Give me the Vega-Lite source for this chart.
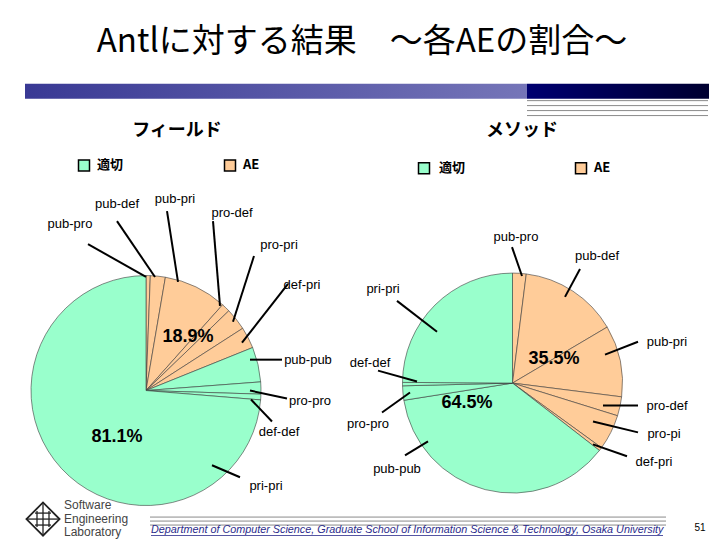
{
  "$schema": "https://vega.github.io/schema/vega-lite/v6.json",
  "width": 720,
  "height": 540,
  "autosize": {"type": "fit", "contains": "padding"},
  "padding": 0,
  "background": "white",
  "config": {"view": {"stroke": null}},
  "datasets": {
    "one": [{}],
    "slices": [
      {"pie": "F", "ord": 1, "name": "pub-pro", "group": "AE", "pct": 0.6},
      {"pie": "F", "ord": 2, "name": "pub-def", "group": "AE", "pct": 2.1},
      {"pie": "F", "ord": 3, "name": "pub-pri", "group": "AE", "pct": 8.9},
      {"pie": "F", "ord": 4, "name": "pro-def", "group": "AE", "pct": 1.2},
      {"pie": "F", "ord": 5, "name": "pro-pri", "group": "AE", "pct": 3.1},
      {"pie": "F", "ord": 6, "name": "def-pri", "group": "AE", "pct": 3.0},
      {"pie": "F", "ord": 7, "name": "pub-pub", "group": "適切", "pct": 4.9},
      {"pie": "F", "ord": 8, "name": "pro-pro", "group": "適切", "pct": 1.7},
      {"pie": "F", "ord": 9, "name": "def-def", "group": "適切", "pct": 0.8},
      {"pie": "F", "ord": 10, "name": "pri-pri", "group": "適切", "pct": 73.7},
      {"pie": "M", "ord": 1, "name": "pub-pro", "group": "AE", "pct": 2.0},
      {"pie": "M", "ord": 2, "name": "pub-def", "group": "AE", "pct": 14.5},
      {"pie": "M", "ord": 3, "name": "pub-pri", "group": "AE", "pct": 10.5},
      {"pie": "M", "ord": 4, "name": "pro-def", "group": "AE", "pct": 2.8},
      {"pie": "M", "ord": 5, "name": "pro-pi", "group": "AE", "pct": 5.2},
      {"pie": "M", "ord": 6, "name": "def-pri", "group": "AE", "pct": 0.5},
      {"pie": "M", "ord": 7, "name": "pub-pub", "group": "適切", "pct": 37.0},
      {"pie": "M", "ord": 8, "name": "pro-pro", "group": "適切", "pct": 2.1},
      {"pie": "M", "ord": 9, "name": "def-def", "group": "適切", "pct": 0.5},
      {"pie": "M", "ord": 10, "name": "pri-pri", "group": "適切", "pct": 24.9}
    ],
    "labels": [
      {"name": "pub-pro", "lx": 70, "ly": 225, "ax": 88, "ay": 245, "bx": 146, "by": 278},
      {"name": "pub-def", "lx": 117, "ly": 205, "ax": 117, "ay": 222, "bx": 155, "by": 278},
      {"name": "pub-pri", "lx": 175, "ly": 200, "ax": 167, "ay": 212, "bx": 178, "by": 283},
      {"name": "pro-def", "lx": 232, "ly": 214, "ax": 213, "ay": 222, "bx": 220, "by": 307},
      {"name": "pro-pri", "lx": 279, "ly": 246, "ax": 254, "ay": 257, "bx": 233, "by": 323},
      {"name": "def-pri", "lx": 302, "ly": 286, "ax": 288, "ay": 285, "bx": 242, "by": 344},
      {"name": "pub-pub", "lx": 308, "ly": 361, "ax": 282, "ay": 361, "bx": 250, "by": 361},
      {"name": "pro-pro", "lx": 310, "ly": 402, "ax": 287, "ay": 400, "bx": 250, "by": 392},
      {"name": "def-def", "lx": 279, "ly": 434, "ax": 272, "ay": 423, "bx": 251, "by": 401},
      {"name": "pri-pri", "lx": 266, "ly": 488, "ax": 240, "ay": 479, "bx": 212, "by": 467},
      {"name": "pub-pro", "lx": 516, "ly": 238, "ax": 512, "ay": 248, "bx": 522, "by": 277},
      {"name": "pub-def", "lx": 597, "ly": 257, "ax": 580, "ay": 270, "bx": 565, "by": 298},
      {"name": "pri-pri", "lx": 383, "ly": 290, "ax": 397, "ay": 302, "bx": 437, "by": 333},
      {"name": "def-def", "lx": 370, "ly": 364, "ax": 378, "ay": 372, "bx": 417, "by": 383},
      {"name": "pro-pro", "lx": 368, "ly": 426, "ax": 382, "ay": 414, "bx": 410, "by": 394},
      {"name": "pub-pub", "lx": 397, "ly": 471, "ax": 405, "ay": 457, "bx": 428, "by": 443},
      {"name": "pub-pri", "lx": 667, "ly": 343, "ax": 638, "ay": 343, "bx": 605, "by": 356},
      {"name": "pro-def", "lx": 667, "ly": 408, "ax": 638, "ay": 407, "bx": 603, "by": 407},
      {"name": "pro-pi", "lx": 664, "ly": 436, "ax": 638, "ay": 434, "bx": 593, "by": 423},
      {"name": "def-pri", "lx": 654, "ly": 464, "ax": 627, "ay": 458, "bx": 593, "by": 446}
    ],
    "pcts": [
      {"t": "18.9%", "x": 188, "y": 338},
      {"t": "81.1%", "x": 117, "y": 439},
      {"t": "35.5%", "x": 554, "y": 360},
      {"t": "64.5%", "x": 467, "y": 404}
    ],
    "heads": [
      {"t": "フィールド", "x": 177, "y": 131},
      {"t": "メソッド", "x": 522, "y": 131}
    ],
    "legsq": [
      {"group": "適切", "x": 84, "y": 166},
      {"group": "AE", "x": 230, "y": 166},
      {"group": "適切", "x": 424, "y": 169},
      {"group": "AE", "x": 581, "y": 169}
    ],
    "legtx": [
      {"t": "適切", "x": 97, "y": 166},
      {"t": "AE", "x": 243, "y": 166},
      {"t": "適切", "x": 439, "y": 169},
      {"t": "AE", "x": 594, "y": 169}
    ],
    "hlines": [
      {"x": 527, "x2": 708, "y": 101},
      {"x": 527, "x2": 708, "y": 106},
      {"x": 527, "x2": 708, "y": 111},
      {"x": 527, "x2": 708, "y": 116},
      {"x": 150, "x2": 666, "y": 519},
      {"x": 150, "x2": 666, "y": 523},
      {"x": 150, "x2": 666, "y": 527}
    ],
    "logo": [
      {"t": "Software", "x": 64, "y": 507},
      {"t": "Engineering", "x": 64, "y": 520.5},
      {"t": "Laboratory", "x": 64, "y": 534}
    ],
    "logolines": [
      {"x": 27, "x2": 59, "y": 521, "y2": 521},
      {"x": 43, "x2": 43, "y": 505, "y2": 537},
      {"x": 35, "x2": 51, "y": 515, "y2": 515},
      {"x": 35, "x2": 51, "y": 527, "y2": 527},
      {"x": 37, "x2": 37, "y": 513, "y2": 529},
      {"x": 49, "x2": 49, "y": 513, "y2": 529}
    ]
  },
  "layer": [
    {
      "data": {"name": "one"},
      "mark": {"type": "text", "text": "Antlに対する結果　～各AEの割合～", "font": "Noto Sans CJK JP", "fontSize": 33, "align": "center", "baseline": "middle", "color": "#000000"},
      "encoding": {
        "x": {"datum": 362, "type": "quantitative", "scale": {"domain": [0, 720], "nice": false, "zero": false}, "axis": null},
        "y": {"datum": 42, "type": "quantitative", "scale": {"domain": [0, 540], "nice": false, "zero": false, "reverse": true}, "axis": null}
      }
    },
    {
      "data": {"name": "one"},
      "mark": {"type": "rect", "color": {"gradient": "linear", "x1": 0, "y1": 0, "x2": 1, "y2": 0, "stops": [{"offset": 0, "color": "#393994"}, {"offset": 1, "color": "#7575B8"}]}},
      "encoding": {
        "x": {"datum": 25, "type": "quantitative", "axis": null},
        "x2": {"datum": 527},
        "y": {"datum": 84, "type": "quantitative", "axis": null},
        "y2": {"datum": 99}
      }
    },
    {
      "data": {"name": "one"},
      "mark": {"type": "rect", "color": {"gradient": "linear", "x1": 0, "y1": 0, "x2": 1, "y2": 0, "stops": [{"offset": 0, "color": "#000070"}, {"offset": 1, "color": "#000030"}]}},
      "encoding": {
        "x": {"datum": 527, "type": "quantitative", "axis": null},
        "x2": {"datum": 709},
        "y": {"datum": 84, "type": "quantitative", "axis": null},
        "y2": {"datum": 99}
      }
    },
    {
      "data": {"name": "hlines"},
      "mark": {"type": "rule", "color": "#8a8a8a", "strokeWidth": 1},
      "encoding": {
        "x": {"field": "x", "type": "quantitative", "axis": null},
        "x2": {"field": "x2"},
        "y": {"field": "y", "type": "quantitative", "axis": null}
      }
    },
    {
      "data": {"name": "heads"},
      "mark": {"type": "text", "font": "Noto Sans CJK JP", "fontSize": 18, "fontWeight": "bold", "align": "center", "baseline": "middle", "color": "#000000"},
      "encoding": {
        "x": {"field": "x", "type": "quantitative", "axis": null},
        "y": {"field": "y", "type": "quantitative", "axis": null},
        "text": {"field": "t"}
      }
    },
    {
      "data": {"name": "legsq"},
      "mark": {"type": "point", "shape": "square", "filled": true, "size": 121, "stroke": "#000000", "strokeWidth": 1.5, "opacity": 1},
      "encoding": {
        "x": {"field": "x", "type": "quantitative", "axis": null},
        "y": {"field": "y", "type": "quantitative", "axis": null},
        "color": {"field": "group", "type": "nominal", "scale": {"domain": ["適切", "AE"], "range": ["#99FFCC", "#FFCC99"]}, "legend": null}
      }
    },
    {
      "data": {"name": "legtx"},
      "mark": {"type": "text", "font": "Noto Sans CJK JP", "fontSize": 13, "fontWeight": "bold", "align": "left", "baseline": "middle", "color": "#000000"},
      "encoding": {
        "x": {"field": "x", "type": "quantitative", "axis": null},
        "y": {"field": "y", "type": "quantitative", "axis": null},
        "text": {"field": "t"}
      }
    },
    {
      "data": {"name": "slices"},
      "transform": [
        {"filter": "datum.pie === 'F'"},
        {"stack": "pct", "groupby": ["pie"], "sort": [{"field": "ord", "order": "ascending"}], "as": ["t0", "t1"]}
      ],
      "mark": {"type": "arc", "radius": 115, "stroke": "#3a3a3a", "strokeWidth": 0.6},
      "encoding": {
        "x": {"datum": 146, "type": "quantitative", "axis": null},
        "y": {"datum": 392, "type": "quantitative", "axis": null},
        "theta": {"field": "t0", "type": "quantitative", "scale": {"domain": [0, 100]}},
        "theta2": {"field": "t1"},
        "color": {"field": "group", "type": "nominal", "legend": null}
      }
    },
    {
      "data": {"name": "slices"},
      "transform": [
        {"filter": "datum.pie === 'M'"},
        {"stack": "pct", "groupby": ["pie"], "sort": [{"field": "ord", "order": "ascending"}], "as": ["t0", "t1"]}
      ],
      "mark": {"type": "arc", "radius": 110, "stroke": "#3a3a3a", "strokeWidth": 0.6},
      "encoding": {
        "x": {"datum": 512.5, "type": "quantitative", "axis": null},
        "y": {"datum": 384.5, "type": "quantitative", "axis": null},
        "theta": {"field": "t0", "type": "quantitative", "scale": {"domain": [0, 100]}},
        "theta2": {"field": "t1"},
        "color": {"field": "group", "type": "nominal", "legend": null}
      }
    },
    {
      "data": {"name": "labels"},
      "mark": {"type": "rule", "color": "#000000", "strokeWidth": 2},
      "encoding": {
        "x": {"field": "ax", "type": "quantitative", "axis": null},
        "y": {"field": "ay", "type": "quantitative", "axis": null},
        "x2": {"field": "bx"},
        "y2": {"field": "by"}
      }
    },
    {
      "data": {"name": "labels"},
      "mark": {"type": "text", "font": "Liberation Sans", "fontSize": 13, "align": "center", "baseline": "middle", "color": "#000000"},
      "encoding": {
        "x": {"field": "lx", "type": "quantitative", "axis": null},
        "y": {"field": "ly", "type": "quantitative", "axis": null},
        "text": {"field": "name"}
      }
    },
    {
      "data": {"name": "pcts"},
      "mark": {"type": "text", "font": "Liberation Sans", "fontSize": 18, "fontWeight": "bold", "align": "center", "baseline": "middle", "color": "#000000"},
      "encoding": {
        "x": {"field": "x", "type": "quantitative", "axis": null},
        "y": {"field": "y", "type": "quantitative", "axis": null},
        "text": {"field": "t"}
      }
    },
    {
      "data": {"name": "one"},
      "mark": {"type": "point", "shape": "diamond", "size": 1100, "filled": false, "stroke": "#222222", "strokeWidth": 1.8, "opacity": 1},
      "encoding": {
        "x": {"datum": 43, "type": "quantitative", "axis": null},
        "y": {"datum": 521, "type": "quantitative", "axis": null}
      }
    },
    {
      "data": {"name": "logolines"},
      "mark": {"type": "rule", "color": "#222222", "strokeWidth": 1.3},
      "encoding": {
        "x": {"field": "x", "type": "quantitative", "axis": null},
        "y": {"field": "y", "type": "quantitative", "axis": null},
        "x2": {"field": "x2"},
        "y2": {"field": "y2"}
      }
    },
    {
      "data": {"name": "logo"},
      "mark": {"type": "text", "font": "Liberation Sans", "fontSize": 12, "align": "left", "baseline": "middle", "color": "#444444"},
      "encoding": {
        "x": {"field": "x", "type": "quantitative", "axis": null},
        "y": {"field": "y", "type": "quantitative", "axis": null},
        "text": {"field": "t"}
      }
    },
    {
      "data": {"name": "one"},
      "mark": {"type": "text", "text": "Department of Computer Science, Graduate School of Information Science & Technology, Osaka University", "font": "Liberation Sans", "fontSize": 10.8, "fontStyle": "italic", "align": "left", "baseline": "middle", "color": "#2B2B8C"},
      "encoding": {
        "x": {"datum": 151, "type": "quantitative", "axis": null},
        "y": {"datum": 532, "type": "quantitative", "axis": null}
      }
    },
    {
      "data": {"name": "one"},
      "mark": {"type": "rule", "color": "#2B2B8C", "strokeWidth": 0.8},
      "encoding": {
        "x": {"datum": 151, "type": "quantitative", "axis": null},
        "x2": {"datum": 663},
        "y": {"datum": 537.5, "type": "quantitative", "axis": null}
      }
    },
    {
      "data": {"name": "one"},
      "mark": {"type": "text", "text": "51", "font": "Liberation Sans", "fontSize": 10, "align": "center", "baseline": "middle", "color": "#000000"},
      "encoding": {
        "x": {"datum": 700, "type": "quantitative", "axis": null},
        "y": {"datum": 530, "type": "quantitative", "axis": null}
      }
    }
  ]
}
